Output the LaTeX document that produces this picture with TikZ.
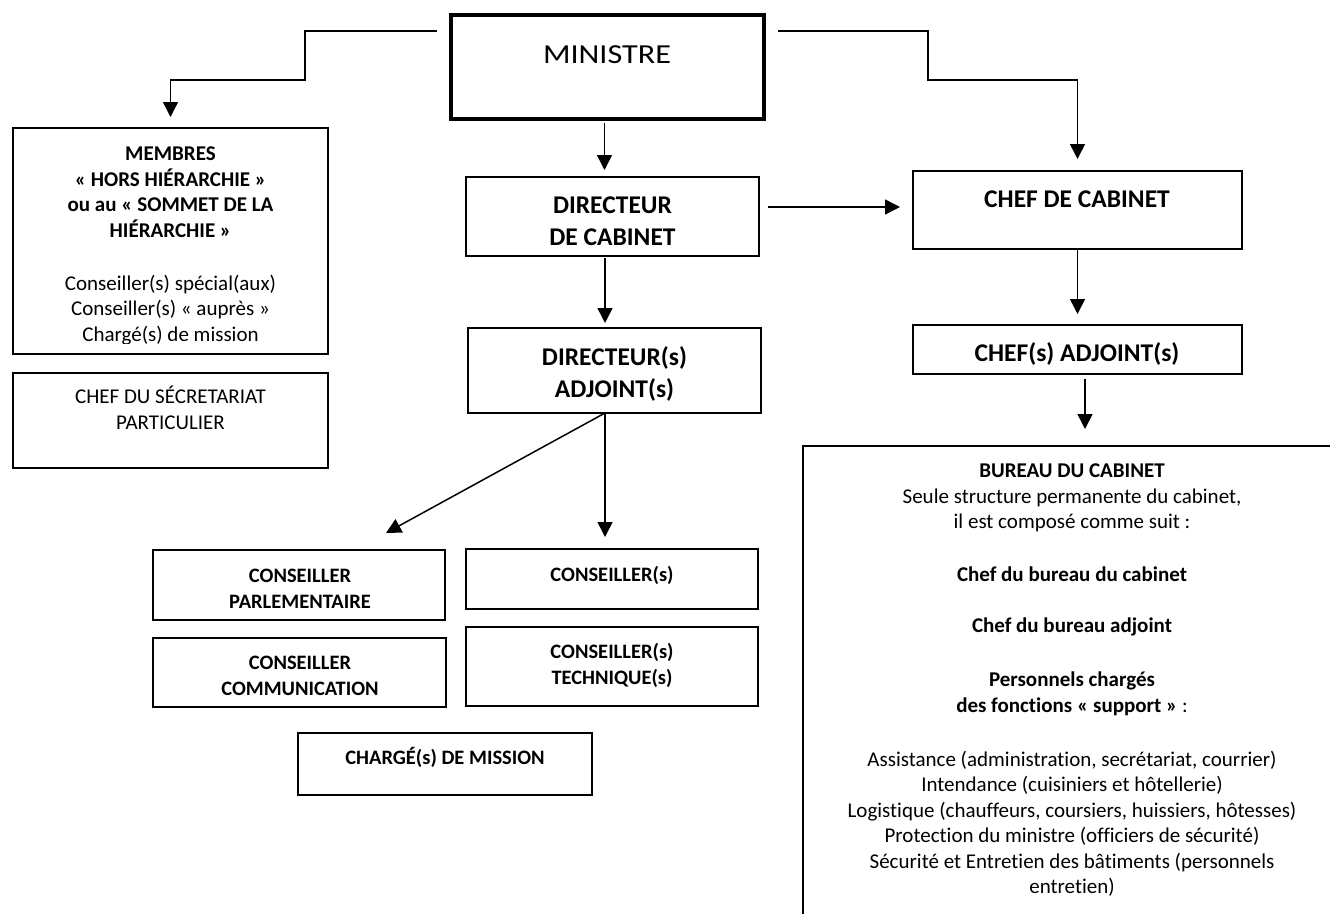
\documentclass[tikz,border=0pt]{standalone}
\usepackage{fontspec}
\setmainfont{Carlito}[Ligatures=NoCommon]
\usetikzlibrary{arrows.meta,calc}
\newcommand\fsA{\fontsize{21}{25.5}\selectfont}
\newcommand\fsB{\fontsize{20.5}{26}\selectfont}
\newcommand\fsC{\fontsize{25.5}{32.5}\selectfont}
\newcommand\fsM{\fontsize{27.5}{32}\selectfont}
\begin{document}
\begin{tikzpicture}[x=1pt,y=-1pt,
  box/.style={draw, line width=1.5pt, inner sep=0pt, outer sep=0pt, rectangle},
  txt/.style={inner sep=0pt, outer sep=0pt, align=center, anchor=north},
  arr/.style={line width=1.5pt, -{Triangle[length=15pt,width=15pt]}}]
\useasboundingbox (0,0) rectangle (1330,913);
\clip (0,0) rectangle (1330,913);
\fill[white] (0,0) rectangle (1330,913);

% boxes
\node[box, line width=4.5pt, minimum width=313pt, minimum height=104pt] (min) at (607.5,67) {};
\node[box, minimum width=315pt, minimum height=226pt] (mem) at (170.5,241) {};
\node[box, minimum width=315pt, minimum height=95pt] (sec) at (170.5,420.5) {};
\node[box, minimum width=293pt, minimum height=79pt] (dc) at (612.5,216.5) {};
\node[box, minimum width=293pt, minimum height=85pt] (da) at (614.5,370.5) {};
\node[box, minimum width=329pt, minimum height=78pt] (cc) at (1077.5,210) {};
\node[box, minimum width=329pt, minimum height=49pt] (ca) at (1077.5,349.5) {};
\node[box, minimum width=292pt, minimum height=70pt] (parl) at (299,585) {};
\node[box, minimum width=292pt, minimum height=60pt] (cons) at (612,579) {};
\node[box, minimum width=293pt, minimum height=69pt] (comm) at (299.5,672.5) {};
\node[box, minimum width=292pt, minimum height=79pt] (tech) at (612,666.5) {};
\node[box, minimum width=294pt, minimum height=62pt] (charg) at (445,764) {};
\node[box, minimum width=538pt, minimum height=554pt] (bur) at (1072,723) {};

% texts
\node[anchor=base, inner sep=0pt, font=\fsM, text=black] (min-t) at (607,63) {\scalebox{1.17}[1]{MINISTRE}};
\begin{scope}
\clip (13,128) rectangle (328,343);
\node[txt, font=\fsA] (mem-t) at (170.5,142.9) {\strut\textbf{MEMBRES}\\
\textbf{« HORS HIÉRARCHIE »}\\
\textbf{ou au « SOMMET DE LA}\\
\textbf{HIÉRARCHIE »}\\[27.5pt]
Conseiller(s) spécial(aux)\\
Conseiller(s) « auprès »\\
Chargé(s) de mission};
\end{scope}
\node[txt, font=\fsA] (sec-t) at (170.5,385.9) {\strut CHEF DU SÉCRETARIAT\\PARTICULIER};
\node[txt, font=\fsC\bfseries] (dc-t) at (612.5,190.5) {\strut DIRECTEUR\\DE CABINET};
\node[txt, font=\fsC\bfseries] (da-t) at (614.5,342.5) {\strut DIRECTEUR(s)\\ADJOINT(s)};
\node[anchor=base, inner sep=0pt, font=\fsC\bfseries] (cc-t) at (1077,207.2) {CHEF DE CABINET};
\node[anchor=base, inner sep=0pt, font=\fsC\bfseries] (ca-t) at (1077,361.2) {CHEF(s) ADJOINT(s)};
\node[txt, font=\fsB\bfseries] (parl-t) at (300,564.4) {\strut CONSEILLER\\PARLEMENTAIRE};
\node[txt, font=\fsB\bfseries] (comm-t) at (300,651.4) {\strut CONSEILLER\\COMMUNICATION};
\node[anchor=base, inner sep=0pt, font=\fsB\bfseries] (cons-t) at (612,581.6) {CONSEILLER(s)};
\node[txt, font=\fsB\bfseries] (tech-t) at (612,640.4) {\strut CONSEILLER(s)\\TECHNIQUE(s)};
\node[anchor=base, inner sep=0pt, font=\fsB\bfseries] (charg-t) at (445,764.6) {CHARGÉ(s) DE MISSION};
\node[txt, font=\fsA] (bur-t) at (1072,459.9) {\strut\textbf{BUREAU DU CABINET}\\
Seule structure permanente du cabinet,\\
il est composé comme suit :\\[27.5pt]
\textbf{Chef du bureau du cabinet}\\[25.5pt]
\textbf{Chef du bureau adjoint}\\[28.5pt]
\textbf{Personnels chargés}\\
\textbf{des fonctions « support »} :\\[28.5pt]
Assistance (administration, secrétariat, courrier)\\
Intendance (cuisiniers et hôtellerie)\\
Logistique (chauffeurs, coursiers, huissiers, hôtesses)\\
Protection du ministre (officiers de sécurité)\\
Sécurité et Entretien des bâtiments (personnels\\
entretien)};

% connectors
\coordinate (bendL) at (305,80);
\coordinate (bendR) at (928,80);
\draw[arr, shorten >=11pt] ([xshift=-14pt,yshift=-16pt]min.north west) -| (bendL) -| (mem.north);
\draw[arr, shorten >=12pt] ([xshift=14pt,yshift=-16pt]min.north east) -| (bendR) -| (cc.north);
\draw[arr, shorten <=4pt, shorten >=7pt] ([xshift=-3pt]min.south) -- ([xshift=-3pt]min.south |- dc.north);
\draw[arr, shorten <=2pt, shorten >=5pt] ([xshift=-7.5pt]dc.south) -- ([xshift=-7.5pt]dc.south |- da.north);
\draw[arr, shorten <=9pt, shorten >=13pt] ([yshift=9.5pt]dc.east) -- ([yshift=9.5pt]dc.east -| cc.west);
\draw[arr, shorten <=1pt, shorten >=11pt] (cc.south) -- (cc.south |- ca.north);
\draw[arr, shorten <=5pt, shorten >=17pt] ([xshift=7.5pt]ca.south) -- ([xshift=7.5pt]ca.south |- bur.north);
\draw[arr] ([xshift=-9.5pt]da.south) -- ($(parl.north)+(87,-17)$);
\draw[arr, shorten >=12pt] ([xshift=-9.5pt]da.south) -- ([xshift=-9.5pt]da.south |- cons.north);
\end{tikzpicture}
\end{document}
